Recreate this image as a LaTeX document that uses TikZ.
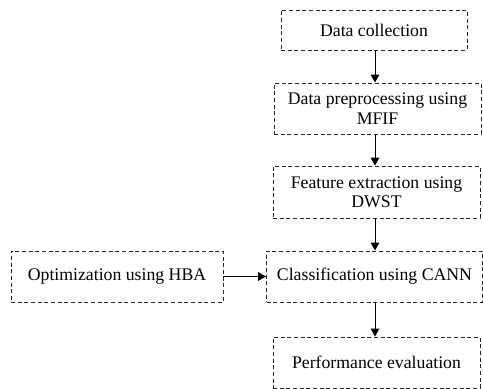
\documentclass[tikz,border=0pt]{standalone}
\usepackage{fontspec}
\setmainfont{Liberation Serif}
\usetikzlibrary{arrows.meta}
\begin{document}
\begin{tikzpicture}[x=0.75pt,y=-0.75pt,
  stage/.style={draw=black!85,line width=0.7pt,dash pattern=on 3pt off 2pt,
    inner sep=0pt,align=center,font=\fontsize{13.3}{14.5}\selectfont},
  arr/.style={draw=black,line width=0.75pt,-{Triangle[length=6pt,width=6.5pt]}}]
\useasboundingbox (0,0) rectangle (483,389);
% flow column
\coordinate (col) at (375,0);
\node[stage,minimum width=139.5pt,minimum height=30pt] (b1) at (374,30) {Data collection};
\node[stage,minimum width=155.25pt,minimum height=38.25pt] (b2) at (377.5,108.5) {Data preprocessing using\\MFIF};
\node[stage,minimum width=155.25pt,minimum height=39pt] (b3) at (376.5,192) {Feature extraction using\\DWST};
\node[stage,minimum width=162pt,minimum height=38.25pt] (b4) at (374.5,276.5) {Classification using CANN};
\node[stage,minimum width=159pt,minimum height=38.25pt] (b5) at (117,276.5) {Optimization using HBA};
\node[stage,minimum width=155.25pt,minimum height=38.25pt] (b6) at (376.5,362.5) {Performance evaluation};
% connectors
\draw[arr] (b1.south -| col) -- (b2.north -| col);
\draw[arr] (b2.south -| col) -- (b3.north -| col);
\draw[arr] (b3.south -| col) -- (b4.north -| col);
\draw[arr] (b4.south -| col) -- (b6.north -| col);
\draw[arr] (b5.east) -- (b4.west);
\end{tikzpicture}
\end{document}
